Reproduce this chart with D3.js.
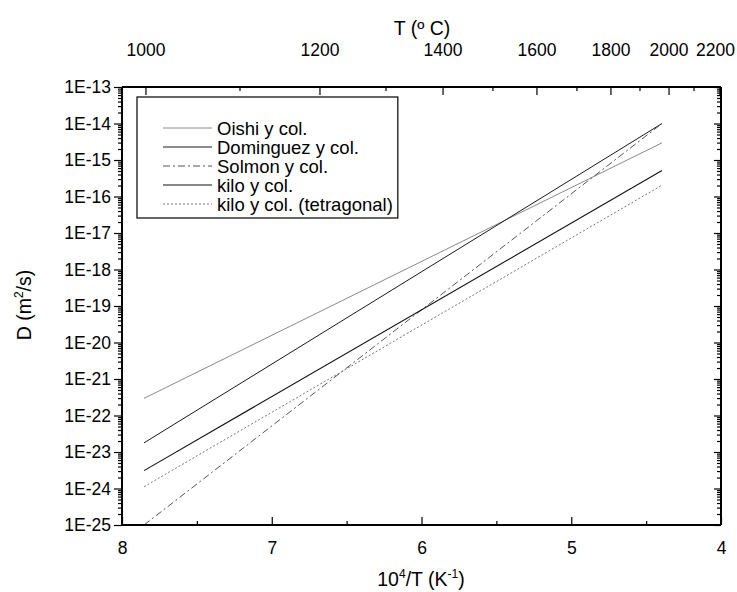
<!DOCTYPE html>
<html>
<head>
<meta charset="utf-8">
<script src="https://cdn.jsdelivr.net/npm/d3@7"></script>
<style>
  html, body { margin: 0; padding: 0; background: #fff; }
  svg { display: block; }
  text { font-family: "Liberation Sans", Arial, sans-serif; fill: #000; }
</style>
</head>
<body>
<svg id="chart" width="737" height="592"></svg>
<script>
// ---- data ----
const seriesNames = ["Oishi y col.", "Dominguez y col.", "Solmon y col.", "kilo y col.", "kilo y col. (tetragonal)"];
// 10^4/T at the two ends of every line (1000 °C and 2000 °C)
const xLeft  = [7.853, 7.853, 7.853, 7.853, 7.853];
const xRight = [4.394, 4.394, 4.394, 4.394, 4.394];
// log10 D (m^2/s) at those ends
const logDLeft  = [-21.53, -22.75, -25.00, -23.51, -23.95];
const logDRight = [-14.53, -14.00, -14.00, -15.29, -15.69];

const bottomTicks = [8, 7, 6, 5, 4];
const bottomMinor = [7.5, 6.5, 5.5, 4.5];
const topTickLabels = [1000, 1100, 1200, 1300, 1400, 1500, 1600, 1700, 1800, 1900, 2000, 2100, 2200];
// positions of the top (°C) ticks, in 10^4/T axis units, as drawn on the figure
const topTickPos = [7.840, 7.212, 6.678, 6.237, 5.856, 5.523, 5.229, 4.962, 4.735, 4.541, 4.347, 4.180, 4.007];
const topLabeled = [1000, 1200, 1400, 1600, 1800, 2000, 2200];
const yExponents = [-13, -14, -15, -16, -17, -18, -19, -20, -21, -22, -23, -24, -25];

// ---- styles ----
const styles = [
  { stroke: "#8a8a8a", width: 1, dash: null },
  { stroke: "#1a1a1a", width: 1, dash: null },
  { stroke: "#555", width: 1, dash: "7,3,2,3" },
  { stroke: "#111", width: 1.1, dash: null },
  { stroke: "#777", width: 1, dash: "2,2" }
];

const W = 737, L = 122, R = 721, T = 87, B = 525;
const svg = d3.select("#chart");

const x = d3.scaleLinear().domain([8, 4]).range([L, R]);
const y = d3.scaleLog().domain([1e-25, 1e-13]).range([B, T]);

// ---- lines ----
const line = d3.line().x(d => x(d[0])).y(d => y(d[1]));
seriesNames.forEach((name, i) => {
  const pts = [[xLeft[i], Math.pow(10, logDLeft[i])], [xRight[i], Math.pow(10, logDRight[i])]];
  svg.append("path")
    .attr("d", line(pts))
    .attr("fill", "none")
    .attr("stroke", styles[i].stroke)
    .attr("stroke-width", styles[i].width)
    .attr("stroke-dasharray", styles[i].dash);
});

// ---- axes ----
const fmt = d => "1E" + Math.round(Math.log10(d));
const majorY = yExponents.map(e => Math.pow(10, e));
const minorY = [];
for (let e = -25; e < -13; e++) for (let m = 2; m <= 9; m++) minorY.push(m * Math.pow(10, e));

const tickFont = "17.5px";
// left axis: ticks outward
const gL = svg.append("g").attr("transform", `translate(${L},0)`);
gL.call(d3.axisLeft(y).tickValues(majorY).tickFormat(fmt).tickSize(8).tickPadding(3));
gL.append("g").call(d3.axisLeft(y).tickValues(minorY).tickFormat("").tickSize(4));
// right axis: ticks inward
const gR = svg.append("g").attr("transform", `translate(${R},0)`);
gR.call(d3.axisRight(y).tickValues(majorY).tickFormat("").tickSize(-7));
gR.append("g").call(d3.axisRight(y).tickValues(minorY).tickFormat("").tickSize(-4));
// bottom axis: ticks inward
const gB = svg.append("g").attr("transform", `translate(0,${B})`);
gB.call(d3.axisBottom(x).tickValues(bottomTicks).tickFormat(d3.format("d")).tickSize(-8).tickPadding(17));
gB.append("g").call(d3.axisBottom(x).tickValues(bottomMinor).tickFormat("").tickSize(-4));
// top axis (°C): ticks inward
const gT = svg.append("g").attr("transform", `translate(0,${T})`);
const topScale = d3.scaleOrdinal().domain(topTickLabels).range(topTickPos.map(v => x(v)));
topTickLabels.forEach((c, i) => {
  const major = topLabeled.includes(c);
  const px = x(topTickPos[i]);
  gT.append("line").attr("x1", px).attr("x2", px).attr("y1", 0).attr("y2", major ? 8 : 4)
    .attr("stroke", "#000").attr("stroke-width", 1.2);
  if (major) {
    const t = gT.append("text").attr("x", topScale(c)).attr("y", -36).attr("text-anchor", "middle")
      .attr("dominant-baseline", "middle").style("font-size", tickFont).text(c);
    const w = t.node().getComputedTextLength();
    if (topScale(c) + w / 2 > W - 2) t.attr("x", W - 2 - w / 2);
  }
});
gT.append("line").attr("x1", L).attr("x2", R).attr("stroke", "#000").attr("stroke-width", 2);

svg.selectAll(".domain").attr("stroke-width", 2).attr("stroke", "#000");
svg.selectAll(".tick line").attr("stroke", "#000").attr("stroke-width", 1.2);
svg.selectAll(".tick text").style("font-size", tickFont);
gL.selectAll(".domain").attr("d", `M0,${B}V${T}`);
gR.selectAll(".domain").attr("d", `M0,${B}V${T}`);
gB.selectAll(".domain").attr("d", `M${L},0H${R}`);

// ---- titles ----
svg.append("text").attr("x", 422).attr("y", 35).attr("text-anchor", "middle").style("font-size", "19.5px").text("T (º C)");
const xt = svg.append("text").attr("x", 421).attr("y", 586).attr("text-anchor", "middle").style("font-size", "19.5px");
xt.append("tspan").text("10");
xt.append("tspan").attr("dy", -8).style("font-size", "12px").text("4");
xt.append("tspan").attr("dy", 8).text("/T (K");
xt.append("tspan").attr("dy", -8).style("font-size", "12px").text("-1");
xt.append("tspan").attr("dy", 8).text(")");
const yt = svg.append("text").attr("transform", "translate(31,305) rotate(-90)").attr("text-anchor", "middle").style("font-size", "19.5px");
yt.append("tspan").text("D (m");
yt.append("tspan").attr("dy", -8).style("font-size", "12px").text("2");
yt.append("tspan").attr("dy", 8).text("/s)");

// ---- legend ----
const lg = svg.append("g");
const box = lg.append("rect").attr("x", 137).attr("y", 97).attr("height", 121)
  .attr("fill", "#fff").attr("stroke", "#000").attr("stroke-width", 1.2);
let maxW = 0;
seriesNames.forEach((name, i) => {
  const yy = 128 + i * 19;
  lg.append("line").attr("x1", 163).attr("x2", 212).attr("y1", yy).attr("y2", yy)
    .attr("stroke", styles[i].stroke).attr("stroke-width", styles[i].width).attr("stroke-dasharray", styles[i].dash);
  const t = lg.append("text").attr("x", 217).attr("y", yy).attr("dominant-baseline", "central")
    .style("font-size", "18.5px").text(name);
  maxW = Math.max(maxW, t.node().getComputedTextLength());
});
box.attr("width", 217 + maxW + 5 - 137);
</script>
</body>
</html>
